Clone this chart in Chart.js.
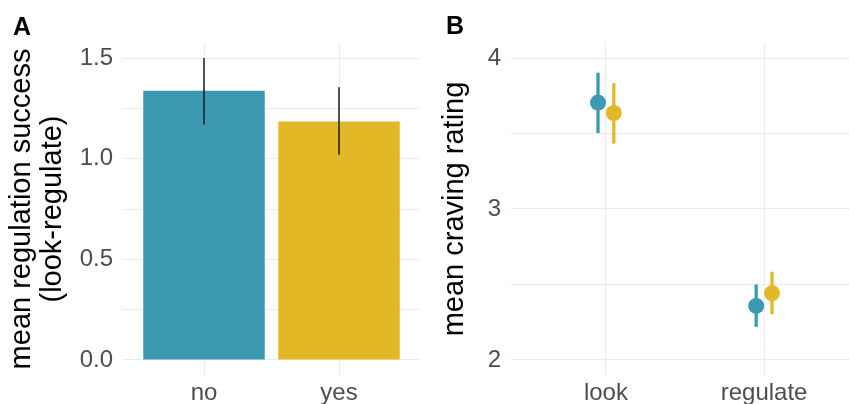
<!DOCTYPE html>
<html>
<head>
<meta charset="utf-8">
<script src="https://cdn.jsdelivr.net/npm/chart.js@4"></script>
<style>
html, body { margin: 0; padding: 0; background: #fff; overflow: hidden; }
#wrap { position: relative; width: 849px; height: 404px; overflow: hidden; }
canvas { position: absolute; top: 0; }
#chartA { left: 0; }
#chartB { left: 430px; }
.tag { position: absolute; font: bold 25px 'Liberation Sans', Arial, sans-serif; line-height: 24px; color: #000; }
</style>
</head>
<body>
<div id="wrap">
  <canvas id="chartA" width="430" height="404"></canvas>
  <canvas id="chartB" width="440" height="404"></canvas>
  <div class="tag" style="left:13px; top:14px">A</div>
  <div class="tag" style="left:446px; top:13px">B</div>
</div>
<script>
// panel A - regulation success by group
const groupsA = ['no', 'yes'];
const successMean = [1.338, 1.185];
const successLow = [1.17, 1.02];
const successHigh = [1.50, 1.355];
const yTicksA = [0, 0.5, 1.0, 1.5];

// panel B - craving rating by condition
const conditions = ['look', 'regulate'];
const cravingNo = [3.705, 2.358];
const cravingNoLow = [3.503, 2.219];
const cravingNoHigh = [3.903, 2.50];
const cravingYes = [3.636, 2.442];
const cravingYesLow = [3.433, 2.302];
const cravingYesHigh = [3.834, 2.584];
const yTicksB = [2, 3, 4];

const teal = '#3B9AB2';
const gold = '#E2B827';
const gridColor = '#ebebeb';
const tickColor = '#4d4d4d';
const dodge = 0.05;

Chart.defaults.font.family = "'Liberation Sans', Arial, sans-serif";

function isMajor(list, v) {
    return list.some(t => Math.abs(t - v) < 1e-6);
}

// panel A
new Chart(document.getElementById('chartA'), {
    type: 'bar',
    data: {
        datasets: [
            {
                // error bars
                data: groupsA.map((g, i) => ({x: i + 1, y: [successLow[i], successHigh[i]]})),
                backgroundColor: '#1a1a1a',
                maxBarThickness: 1.5,
                grouped: false
            },
            {
                data: groupsA.map((g, i) => ({x: i + 1, y: successMean[i]})),
                backgroundColor: [teal, gold],
                categoryPercentage: 1,
                barPercentage: 0.9,
                grouped: false
            }
        ]
    },
    options: {
        responsive: false,
        animation: false,
        layout: {padding: {top: 43, right: 10, left: 0, bottom: 0}},
        plugins: {legend: {display: false}, tooltip: {enabled: false}},
        scales: {
            x: {
                type: 'linear', min: 0.4, max: 2.6, offset: false,
                grid: {offset: false, color: gridColor, drawTicks: false},
                border: {display: false},
                ticks: {
                    stepSize: 1, includeBounds: false, autoSkip: false, maxRotation: 0,
                    padding: 4, color: tickColor, font: {size: 24},
                    callback: v => groupsA[Math.round(v) - 1] || ''
                },
                afterFit: s => { s.height = 29; }
            },
            y: {
                min: -0.075, max: 1.575,
                grid: {color: gridColor, drawTicks: false},
                border: {display: false},
                ticks: {
                    stepSize: 0.25, includeBounds: false, autoSkip: false,
                    padding: 10, color: tickColor, font: {size: 24},
                    callback: v => isMajor(yTicksA, v) ? v.toFixed(1) : ''
                },
                title: {
                    display: true, text: ['mean regulation success', '(look-regulate)'],
                    color: '#000', font: {size: 29, lineHeight: 1.05}, padding: {top: 7, bottom: 0}
                },
                afterFit: s => { s.width = 123; }
            }
        }
    }
});

// panel B
new Chart(document.getElementById('chartB'), {
    type: 'bar',
    data: {
        datasets: [
            {
                type: 'scatter',
                data: conditions.map((c, i) => ({x: i + 1 - dodge, y: cravingNo[i]})),
                backgroundColor: teal, borderWidth: 0, pointRadius: 8
            },
            {
                type: 'scatter',
                data: conditions.map((c, i) => ({x: i + 1 + dodge, y: cravingYes[i]})),
                backgroundColor: gold, borderWidth: 0, pointRadius: 8
            },
            {
                data: conditions.map((c, i) => ({x: i + 1 - dodge, y: [cravingNoLow[i], cravingNoHigh[i]]})),
                backgroundColor: teal, maxBarThickness: 3.3, grouped: false
            },
            {
                data: conditions.map((c, i) => ({x: i + 1 + dodge, y: [cravingYesLow[i], cravingYesHigh[i]]})),
                backgroundColor: gold, maxBarThickness: 3.3, grouped: false
            }
        ]
    },
    options: {
        responsive: false,
        animation: false,
        layout: {padding: {top: 43, right: 11, left: 0, bottom: 0}},
        plugins: {legend: {display: false}, tooltip: {enabled: false}},
        scales: {
            x: {
                type: 'linear', min: 0.4, max: 2.6, offset: false,
                grid: {offset: false, color: gridColor, drawTicks: false},
                border: {display: false},
                ticks: {
                    stepSize: 1, includeBounds: false, autoSkip: false, maxRotation: 0,
                    padding: 4, color: tickColor, font: {size: 24},
                    callback: v => conditions[Math.round(v) - 1] || ''
                },
                afterFit: s => { s.height = 29; }
            },
            y: {
                min: 1.9, max: 4.1,
                grid: {color: gridColor, drawTicks: false},
                border: {display: false},
                ticks: {
                    stepSize: 0.5, includeBounds: false, autoSkip: false,
                    padding: 10, color: tickColor, font: {size: 24},
                    callback: v => isMajor(yTicksB, v) ? String(v) : ''
                },
                title: {
                    display: true, text: 'mean craving rating',
                    color: '#000', font: {size: 29, lineHeight: 1.05}, padding: {top: 10, bottom: 0}
                },
                afterFit: s => { s.width = 81; }
            }
        }
    }
});
</script>
</body>
</html>
